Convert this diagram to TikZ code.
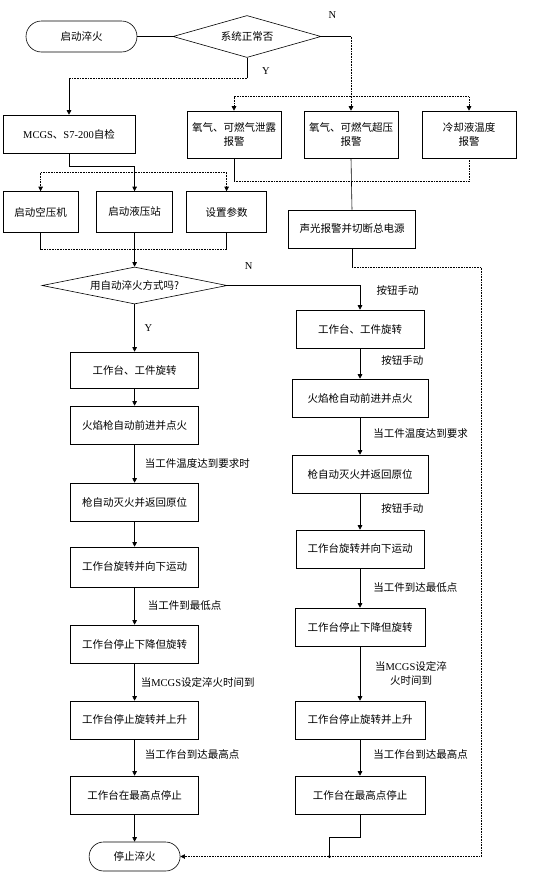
\documentclass[tikz,border=0pt]{standalone}
\usepackage{fontspec}
\usepackage{tikz}
\usetikzlibrary{shapes.geometric,shapes.misc,arrows.meta}
\setmainfont{Liberation Serif}
\newfontfamily\cjk{Noto Sans CJK SC}
\newfontfamily\latin{Liberation Serif}
\newcommand{\boxfont}{\cjk\fontsize{10.5}{14}\selectfont}

\begin{document}
\begin{tikzpicture}[node distance=76pt, line width=0.6pt,
  >={Triangle[length=4.5pt,width=4.5pt]},
  box/.style={rectangle, draw, font=\boxfont, minimum height=38pt, inner sep=1pt, align=center},
  term/.style={rounded rectangle, draw, font=\boxfont, minimum height=31pt, inner sep=1pt},
  decision/.style={diamond, draw, font=\boxfont, inner sep=0pt},
  lab/.style={font=\boxfont, anchor=west, inner sep=0pt},
  yn/.style={font=\latin\fontsize{10.5}{12}\selectfont, inner sep=0pt},
  dline/.style={densely dotted}]
  \useasboundingbox (0,0) rectangle (556pt,-873pt);

  % start and system check
  \node (start) [term, minimum width=113pt] at (81.5pt,-36.5pt) {启动淬火};
  \node (sys) [decision, aspect=3.5, minimum width=148pt, minimum height=42pt, right of=start, xshift=89.5pt] {系统正常否};
  \node (self) [box, minimum width=132pt, below of=start, xshift=-12.5pt, yshift=-21.5pt] {{\latin MCGS}、{\latin S7-200}自检};

  % alarms
  \node (leak) [box, minimum width=94pt, minimum height=47pt, below of=sys, xshift=-13pt, yshift=-22pt] {氧气、可燃气泄露\\报警};
  \node (press) [box, minimum width=94pt, minimum height=47pt, right of=leak, xshift=41pt] {氧气、可燃气超压\\报警};
  \node (cool) [box, minimum width=94pt, minimum height=47pt, right of=press, xshift=42pt] {冷却液温度\\报警};
  \node (cut) [box, minimum width=127pt, below of=press, xshift=1pt, yshift=-18.5pt] {声光报警并切断总电源};

  % preparation
  \node (hyd) [box, minimum width=76pt, minimum height=41pt, below of=self, xshift=65.6pt, yshift=-2pt] {启动液压站};
  \node (air) [box, minimum width=75pt, minimum height=41pt, left of=hyd, xshift=-18pt] {启动空压机};
  \node (para) [box, minimum width=80pt, minimum height=41pt, right of=hyd, xshift=16pt] {设置参数};
  \node (auto) [decision, aspect=5, minimum width=185pt, minimum height=37pt, below of=hyd, yshift=2.5pt] {用自动淬火方式吗?};

  % automatic branch
  \node (a1) [box, minimum width=128pt, minimum height=36pt, below of=auto, yshift=-8.5pt] {工作台、工件旋转};
  \node (a2) [box, minimum width=128pt, below of=a1, yshift=21pt] {火焰枪自动前进并点火};
  \node (a3) [box, minimum width=128pt, below of=a2, yshift=-1pt] {枪自动灭火并返回原位};
  \node (a4) [box, minimum width=128pt, minimum height=40pt, below of=a3, yshift=11pt] {工作台旋转并向下运动};
  \node (a5) [box, minimum width=128pt, below of=a4, yshift=-1pt] {工作台停止下降但旋转};
  \node (a6) [box, minimum width=128pt, below of=a5] {工作台停止旋转并上升};
  \node (a7) [box, minimum width=128pt, below of=a6, yshift=1pt] {工作台在最高点停止};
  \node (stop) [term, minimum width=93pt, minimum height=29pt, below of=a7, yshift=14.5pt] {停止淬火};

  % manual branch
  \node (m1) [box, minimum width=128pt, right of=auto, xshift=149.4pt, yshift=-43.5pt] {工作台、工件旋转};
  \node (m2) [box, minimum width=136pt, below of=m1, yshift=7pt] {火焰枪自动前进并点火};
  \node (m3) [box, minimum width=136pt, below of=m2] {枪自动灭火并返回原位};
  \node (m4) [box, minimum width=128pt, below of=m3, yshift=1pt] {工作台旋转并向下运动};
  \node (m5) [box, minimum width=130pt, below of=m4, yshift=-2pt] {工作台停止下降但旋转};
  \node (m6) [box, minimum width=130pt, below of=m5, yshift=-17pt] {工作台停止旋转并上升};
  \node (m7) [box, minimum width=130pt, below of=m6, yshift=1pt] {工作台在最高点停止};

  % bend points
  \path (press.north) ++(0,14pt) coordinate (nbus);
  \path (cool.south) ++(0,-23pt) coordinate (abus);
  \path (cut.south) ++(129pt,-18.7pt) coordinate (rtop);
  \path (hyd.north) ++(0,19pt) coordinate (bbus);
  \path (hyd.south) ++(0,-16.8pt) coordinate (jbus);
  \path (stop.east) ++(149pt,0) coordinate (jn);

  % top part
  \draw[line width=1pt] (start.east) -- (sys.west);
  \draw (sys.east) -- node[yn, pos=0.37, yshift=21.5pt] (n1) {N} (sys.east -| press.north);
  \draw[dline,->] (sys.east -| press.north) -- (press.north);
  \draw (sys.south) -- node[yn, pos=0.66, xshift=19pt] (y1) {Y} ++(0,-20.5pt) coordinate (ybend);
  \draw[dline] (ybend) -- (ybend -| self.north);
  \draw[->] (ybend -| self.north) -- (self.north);
  \draw[dline,->] (nbus) -| (leak.north);
  \draw[dline,->] (nbus) -| (cool.north);
  \draw (leak.south) -- (leak.south |- abus);
  \draw[dline] (leak.south |- abus) -- (abus) -- (cool.south);
  \draw (press.south) -- (cut.north);
  \draw (cut.south) -- (cut.south |- rtop);
  \draw[dline,->] (cut.south |- rtop) -- (rtop) |- (stop.east);

  % preparation links
  \draw[->] (self.south) -- ++(0,-12.7pt) -| (hyd.north);
  \draw[dline,->] (bbus) -| (air.north);
  \draw[dline,->] (bbus) -| (para.north);
  \draw (air.south) -- (air.south |- jbus);
  \draw (para.south) -- (para.south |- jbus);
  \draw[dline] (air.south |- jbus) -- (para.south |- jbus);
  \draw[->] (hyd.south) -- (auto.north);

  % automatic links
  \draw[->] (auto.south) -- node[yn, anchor=west, xshift=9.6pt] (y2) {Y} (a1.north);
  \draw[->] (a1.south) -- (a2.north);
  \draw[->] (a2.south) -- node[lab, xshift=10pt] (c1) {当工件温度达到要求时} (a3.north);
  \draw[->] (a3.south) -- (a4.north);
  \draw[->] (a4.south) -- node[lab, xshift=13pt] (c2) {当工件到最低点} (a5.north);
  \draw[->] (a5.south) -- node[lab, xshift=6pt] (c3) {当{\latin MCGS}设定淬火时间到} (a6.north);
  \draw[->] (a6.south) -- node[lab, xshift=10pt, yshift=3pt] (c4) {当工作台到达最高点} (a7.north);
  \draw[->] (a7.south) -- (stop.north);

  % manual links
  \draw[->] (auto.east) -| node[yn, pos=0.08, yshift=19.5pt] (n2) {N}
    node[lab, pos=0.5, xshift=16.4pt, yshift=-4.5pt] (k1) {按钮手动} (m1.north);
  \draw[->] (m1.south) -- node[lab, xshift=21pt, yshift=3pt] (k2) {按钮手动} (m2.north);
  \draw[->] (m2.south) -- node[lab, xshift=13pt, yshift=3pt] (k3) {当工件温度达到要求} (m3.north);
  \draw[->] (m3.south) -- node[lab, xshift=21pt, yshift=3pt] (k4) {按钮手动} (m4.north);
  \draw[->] (m4.south) -- node[lab, xshift=13pt] (k5) {当工件到达最低点} (m5.north);
  \draw[->] (m5.south) -- node[lab, anchor=center, align=center, xshift=51pt] (k6) {当{\latin MCGS}设定淬\\火时间到} (m6.north);
  \draw[->] (m6.south) -- node[lab, xshift=13pt, yshift=3pt] (k7) {当工作台到达最高点} (m7.north);
  \draw (m7.south) -- ++(0,-22.7pt) -| (jn);
  \fill (jn) circle (1.6pt);
\end{tikzpicture}
\end{document}
